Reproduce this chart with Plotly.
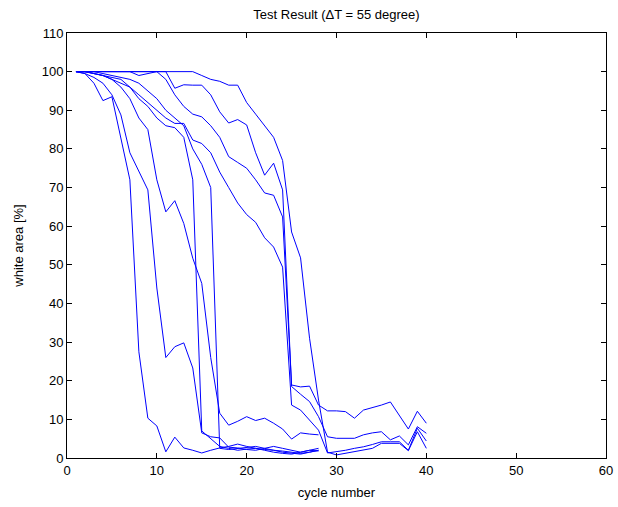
import plotly.graph_objects as go

cycles_short = list(range(1, 29))
cycles_long = list(range(1, 41))

s1 = [100, 99.5, 97, 92.5, 93.5, 83, 72, 27.5, 10.3, 8.3, 1.6, 5.4, 2.6, 2.0, 1.3, 2.0, 2.6, 3.0, 3.6, 3.0,
      2.5, 2.2, 2.0, 1.5, 1.2, 1.0, 1.5, 2.0]
s2 = [100, 99.5, 98.5, 97, 94, 88.8, 79, 74, 69.4, 44, 26, 28.8, 29.8, 23.3, 6.5, 5.5, 5.2, 2.8, 2.6, 2.2,
      2.0, 2.5, 3.0, 2.5, 2.0, 1.5, 2.0, 2.5]
s3 = [100, 100, 99.5, 99, 98, 96, 93, 88, 85, 72, 63.7, 66.6, 60.7, 51.7, 45.2, 26, 11.6, 8.5, 9.5, 10.7,
      9.7, 10.3, 9.0, 7.5, 4.9, 6.5, 6.2, 6.0]
s4 = [100, 100, 99.5, 99, 98.5, 98, 96, 93, 91, 88, 86, 85.5, 83, 72, 7, 5, 3, 2.5, 2, 2.3,
      2.5, 2, 1.5, 1.2, 1, 1.5, 2, 1.8]
s5 = [100, 100, 100, 99.5, 99, 98.5, 98, 97, 95, 93, 90, 88, 86, 80, 76, 70, 2.5, 2.2, 2.5, 2.8,
      3.0, 2.5, 2.0, 1.8, 1.5, 1.2, 1.5, 2.0]
s6 = [100, 100, 99.5, 99, 98, 97, 96, 94, 92, 90, 88, 86.6, 86.6, 82.3, 81.4, 79, 74, 70, 66, 63,
      61, 57, 54.6, 49.4, 13.7, 12.4, 9.8, 7.2, 1.3, 1.6, 2.0, 2.5, 2.9, 3.5, 4.2, 4.2, 4.2, 2.0, 7.7, 4.4]
s7 = [100, 100, 100, 100, 100, 100, 100, 99, 99.5, 100, 98, 94, 91, 89, 88.3, 86, 83, 78, 76.5, 75,
      72, 68.6, 68, 62.4, 18.9, 18.4, 18.6, 13.7, 12.2, 12.2, 12, 10.3, 12.4, 13, 13.7, 14.5, 11, 7.5, 12.1, 9]
s8 = [100, 100, 100, 100, 100, 100, 100, 100, 100, 100, 100, 95.7, 96.6, 96.5, 96.5, 94, 89.6, 86.7, 87.6, 86.2,
      79, 73.2, 76.3, 69.4, 18.5, 16.5, 14.6, 10.7, 5.5, 5.1, 5.1, 5.1, 6, 6.5, 6.8, 4.7, 5.7, 3.4, 8.1, 6.4]
s9 = [100, 100, 100, 100, 100, 100, 100, 100, 100, 100, 100, 100, 100, 100, 99, 98, 97.5, 96.5, 96.5, 92,
      89, 86, 83, 77, 58.5, 51.8, 31, 15, 1.5, 0.8, 1.2, 1.6, 2.0, 2.5, 3.8, 3.8, 3.8, 1.9, 6.8, 2.5]

short_series = [s1, s2, s3, s4, s5]
long_series = [s6, s7, s8, s9]

x_ticks = [0, 10, 20, 30, 40, 50, 60]
y_ticks = [0, 10, 20, 30, 40, 50, 60, 70, 80, 90, 100, 110]

fig = go.Figure()
for s in short_series:
    fig.add_trace(go.Scatter(x=cycles_short, y=s, mode="lines",
                             line=dict(color="rgb(0,0,255)", width=1), showlegend=False))
for s in long_series:
    fig.add_trace(go.Scatter(x=cycles_long, y=s, mode="lines",
                             line=dict(color="rgb(0,0,255)", width=1), showlegend=False))

font = dict(family="Liberation Sans, Arial, sans-serif", size=13, color="black")
fig.update_layout(
    width=618, height=507,
    margin=dict(l=67, r=12, t=33, b=49, autoexpand=False),
    paper_bgcolor="white", plot_bgcolor="white",
    font=font,
    title=dict(text="Test Result (\u0394T = 55 degree)", x=0.5, xref="paper",
               y=1 - 14 / 507, yref="container", yanchor="middle", xanchor="center",
               font=font),
)
axis_common = dict(showline=True, linecolor="black", linewidth=1, mirror="allticks",
                   ticks="inside", ticklen=5, tickcolor="black", showgrid=False,
                   zeroline=False, tickfont=font, automargin=False)
fig.update_xaxes(range=[0, 60], tickvals=x_ticks, title=dict(text="cycle number", font=font, standoff=11),
                 **axis_common)
fig.update_yaxes(range=[0, 110], tickvals=y_ticks, title=dict(text="white area [%]", font=font, standoff=15),
                 **axis_common)

fig.write_html("out.html")
